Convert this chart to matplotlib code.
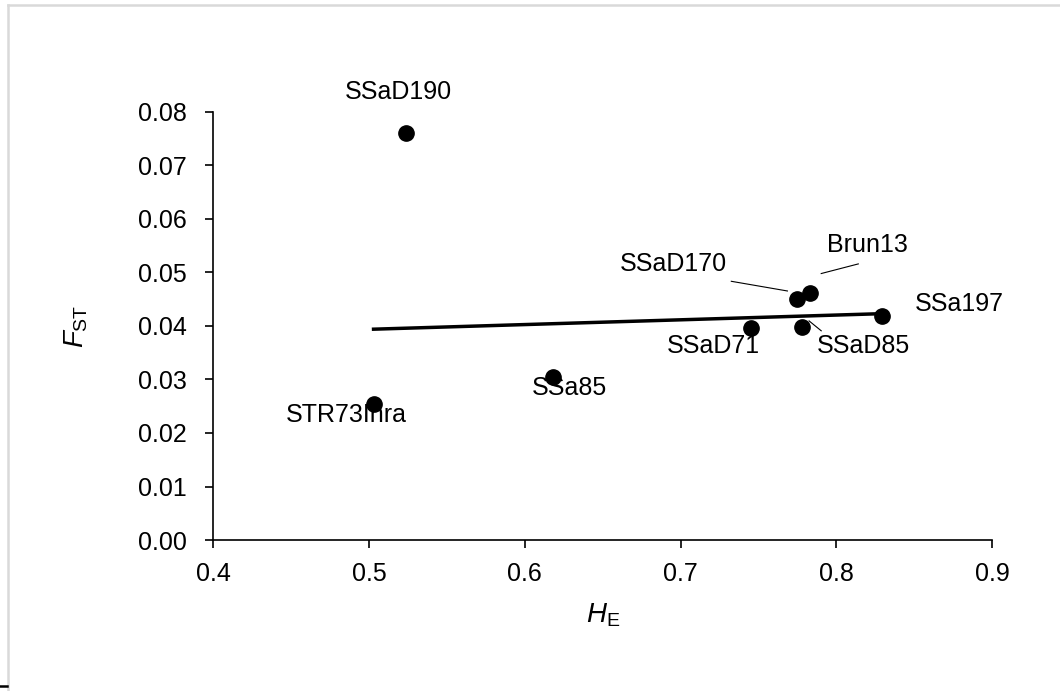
import numpy as np
import matplotlib.pyplot as plt
from matplotlib.lines import Line2D

plt.rcParams['font.family'] = ['Liberation Sans', 'DejaVu Sans']
plt.rcParams['mathtext.fontset'] = 'custom'
plt.rcParams['mathtext.rm'] = 'Liberation Sans'
plt.rcParams['mathtext.it'] = 'Liberation Sans:italic'

# loci, expected heterozygosity (HE) and FST
loci = ['SSaD190', 'STR73Inra', 'SSa85', 'SSaD71', 'SSaD170', 'Brun13', 'SSaD85', 'SSa197']
he = [0.524, 0.503, 0.618, 0.745, 0.775, 0.783, 0.778, 0.829]
fst = [0.0761, 0.0255, 0.0305, 0.0396, 0.0451, 0.0462, 0.0398, 0.0419]

# trend line end points
trend_x = [0.503, 0.829]
trend_y = [0.0394, 0.0423]

# label positions (data coords) and leader lines
label_x = [0.519, 0.4854, 0.6285, 0.7209, 0.6957, 0.8198, 0.8172, 0.8792]
label_y = [0.0837, 0.0233, 0.0284, 0.0363, 0.0515, 0.0552, 0.0363, 0.0442]
leaders = {
    'SSaD170': ([0.7326, 0.7686], [0.04835, 0.04654]),
    'Brun13': ([0.7903, 0.8141], [0.0498, 0.0516]),
    'SSaD85': ([0.7825, 0.7903], [0.04095, 0.0391]),
}

fig = plt.figure(figsize=(10.6, 6.91), dpi=100)
ax = fig.add_axes([0.201, 0.2185, 0.735, 0.6195])

ax.plot(trend_x, trend_y, '-k', lw=2.5, zorder=2)
ax.plot(he, fst, 'o', color='black', ms=11, zorder=3)

for name, lx, ly in zip(loci, label_x, label_y):
    ax.text(lx, ly, name, ha='center', va='center', fontsize=18, zorder=4)
for name in leaders:
    xs, ys = leaders[name]
    ax.plot(xs, ys, '-k', lw=0.8, zorder=1)

ax.set_xlim(0.4, 0.9)
ax.set_ylim(0, 0.08)
ax.set_xticks(np.arange(0.4, 0.91, 0.1))
ax.set_yticks(np.arange(0, 0.081, 0.01))
ax.set_xticklabels(['0.4', '0.5', '0.6', '0.7', '0.8', '0.9'])
ax.set_yticklabels(['%.2f' % v for v in np.arange(0, 0.081, 0.01)])
ax.tick_params(direction='out', length=6, width=1.2, labelsize=18)
ax.tick_params(axis='y', pad=13)
ax.tick_params(axis='x', pad=10)
for s in ['top', 'right']:
    ax.spines[s].set_visible(False)
for s in ['left', 'bottom']:
    ax.spines[s].set_linewidth(1.2)

ax.set_xlabel(r'$\mathit{H}_{\mathrm{E}}$', fontsize=20)
ax.set_ylabel(r'$\mathit{F}_{\mathrm{ST}}$', fontsize=20)
ax.xaxis.label.set_va('center')
ax.yaxis.label.set_va('center')
ax.xaxis.set_label_coords(0.501, -0.175)
ax.yaxis.set_label_coords(-0.176, 0.5)

# grey chart border and small mark bottom-left
fig.add_artist(Line2D([0.008, 1.0], [0.9925, 0.9925], color='#d9d9d9', lw=1.8))
fig.add_artist(Line2D([0.008, 0.008], [0.0, 0.9925], color='#d9d9d9', lw=1.8))
fig.add_artist(Line2D([0.0, 0.007], [0.007, 0.007], color='black', lw=1.8))

fig.savefig('out.png', dpi=100)
